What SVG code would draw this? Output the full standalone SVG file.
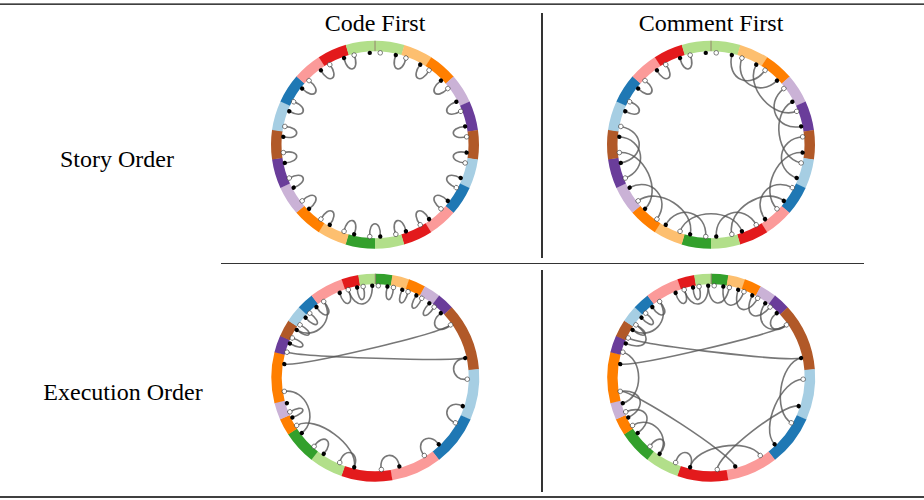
<svg xmlns="http://www.w3.org/2000/svg" xmlns:xlink="http://www.w3.org/1999/xlink" width="924" height="500" viewBox="0 0 924 500">
<style>
.t{font-family:"Liberation Serif",serif;font-size:24px;fill:#000}
.arcs{fill:none;stroke:#555;stroke-opacity:.8;stroke-width:1.6}
.ring{fill:none;stroke-width:10.5}
</style>
<defs>
<circle id="B" cy="-92" r="2.2" fill="#000"/>
<circle id="W" cy="-92" r="2.3" fill="#fff" stroke="#333" stroke-width=".6"/>
<path id="t33" d="M-5.25-91.85C-6.78-74.88 6.78-74.88 5.25-91.85"/>
<path id="t115" d="M-18.26-90.17C-13.3-65.67 13.3-65.67 18.26-90.17"/>
<path id="t1309" d="M-20.84-89.61C-15.17-65.26 15.17-65.26 20.84-89.61"/>
<path id="t1964" d="M-30.92-86.65C-22.52-63.1 22.52-63.1 30.92-86.65"/>
<path id="h19" d="M-3.05-91.95C-4.99-74.96 4.99-74.96 3.05-91.95"/>
<path id="h285" d="M-4.57-91.89C-6.23-74.91 6.23-74.91 4.57-91.89"/>
<path id="h379" d="M-6.08-91.8C-7.46-74.84 7.46-74.84 6.08-91.8"/>
<path id="h474" d="M-7.6-91.69C-8.7-74.74 8.7-74.74 7.6-91.69"/>
<path id="h568" d="M-9.11-91.55C-9.92-74.63 9.92-74.63 9.11-91.55"/>
<path id="h663" d="M-10.62-91.38C-11.16-74.5 11.16-74.5 10.62-91.38"/>
<path id="m663" d="M-10.62-91.38C-8.08-69.53 8.08-69.53 10.62-91.38"/>
<path id="m758" d="M-12.13-91.2C-9.23-69.39 9.23-69.39 12.13-91.2"/>
<path id="m853" d="M-13.65-90.98C-10.38-69.23 10.38-69.23 13.65-90.98"/>
<path id="m947" d="M-15.14-90.75C-11.52-69.05 11.52-69.05 15.14-90.75"/>
<path id="m1232" d="M-19.63-89.88C-14.94-68.39 14.94-68.39 19.63-89.88"/>
<path id="m1421" d="M-22.59-89.18C-17.18-67.86 17.18-67.86 22.59-89.18"/>
<path id="m1610" d="M-25.51-88.39C-19.41-67.25 19.41-67.25 25.51-88.39"/>
<path id="m2085" d="M-32.75-85.97C-24.92-65.42 24.92-65.42 32.75-85.97"/>
<path id="m2274" d="M-35.56-84.85C-27.06-64.56 27.06-64.56 35.56-84.85"/>
<path id="m3410" d="M-51.58-76.18C-43.73-64.59 43.73-64.59 51.58-76.18"/>
<path id="m4830" d="M-68.69-61.2C-59.73-53.22 59.73-53.22 68.69-61.2"/>
<path id="h6821" d="M-85.43-34.15C-69.64-27.84 69.64-27.84 85.43-34.15"/>
<path id="h7579" d="M-89.19-22.58C-72.71-18.41 72.71-18.41 89.19-22.58"/>
<path id="h7105" d="M-87.02-29.87C-70.94-24.35 70.94-24.35 87.02-29.87"/>
<g id="ringTop" class="ring">
<circle r="98.75" pathLength="360" stroke-dasharray="16.6 400" stroke="#b2df8a" transform="rotate(-90)"/>
<circle r="98.75" pathLength="360" stroke-dasharray="16.6 400" stroke="#fdbf6f" transform="rotate(-73.64)"/>
<circle r="98.75" pathLength="360" stroke-dasharray="16.6 400" stroke="#ff7f00" transform="rotate(-57.27)"/>
<circle r="98.75" pathLength="360" stroke-dasharray="16.6 400" stroke="#cab2d6" transform="rotate(-40.91)"/>
<circle r="98.75" pathLength="360" stroke-dasharray="16.6 400" stroke="#6a3d9a" transform="rotate(-24.55)"/>
<circle r="98.75" pathLength="360" stroke-dasharray="16.6 400" stroke="#b15928" transform="rotate(-8.18)"/>
<circle r="98.75" pathLength="360" stroke-dasharray="16.6 400" stroke="#a6cee3" transform="rotate(8.18)"/>
<circle r="98.75" pathLength="360" stroke-dasharray="16.6 400" stroke="#1f78b4" transform="rotate(24.55)"/>
<circle r="98.75" pathLength="360" stroke-dasharray="16.6 400" stroke="#fb9a99" transform="rotate(40.91)"/>
<circle r="98.75" pathLength="360" stroke-dasharray="16.6 400" stroke="#e31a1c" transform="rotate(57.27)"/>
<circle r="98.75" pathLength="360" stroke-dasharray="16.6 400" stroke="#b2df8a" transform="rotate(73.64)"/>
<circle r="98.75" pathLength="360" stroke-dasharray="16.6 400" stroke="#33a02c" transform="rotate(90)"/>
<circle r="98.75" pathLength="360" stroke-dasharray="16.6 400" stroke="#fdbf6f" transform="rotate(106.36)"/>
<circle r="98.75" pathLength="360" stroke-dasharray="16.6 400" stroke="#ff7f00" transform="rotate(122.73)"/>
<circle r="98.75" pathLength="360" stroke-dasharray="16.6 400" stroke="#cab2d6" transform="rotate(139.09)"/>
<circle r="98.75" pathLength="360" stroke-dasharray="16.6 400" stroke="#6a3d9a" transform="rotate(155.45)"/>
<circle r="98.75" pathLength="360" stroke-dasharray="16.6 400" stroke="#b15928" transform="rotate(171.82)"/>
<circle r="98.75" pathLength="360" stroke-dasharray="16.6 400" stroke="#a6cee3" transform="rotate(188.18)"/>
<circle r="98.75" pathLength="360" stroke-dasharray="16.6 400" stroke="#1f78b4" transform="rotate(204.55)"/>
<circle r="98.75" pathLength="360" stroke-dasharray="16.6 400" stroke="#fb9a99" transform="rotate(220.91)"/>
<circle r="98.75" pathLength="360" stroke-dasharray="16.6 400" stroke="#e31a1c" transform="rotate(237.27)"/>
<circle r="98.75" pathLength="360" stroke-dasharray="16.4 400" stroke="#b2df8a" transform="rotate(253.64)"/>
<line y1="-104" y2="-93.5" stroke="#8a7060" stroke-width=".8"/>
</g>
<g id="ringBot" class="ring">
<circle r="98.75" pathLength="360" stroke-dasharray="9.7 400" stroke="#33a02c" transform="rotate(-90)"/>
<circle r="98.75" pathLength="360" stroke-dasharray="9.7 400" stroke="#fdbf6f" transform="rotate(-80.53)"/>
<circle r="98.75" pathLength="360" stroke-dasharray="9.7 400" stroke="#ff7f00" transform="rotate(-71.05)"/>
<circle r="98.75" pathLength="360" stroke-dasharray="9.7 400" stroke="#cab2d6" transform="rotate(-61.58)"/>
<circle r="98.75" pathLength="360" stroke-dasharray="9.7 400" stroke="#6a3d9a" transform="rotate(-52.11)"/>
<circle r="98.75" pathLength="360" stroke-dasharray="38.1 400" stroke="#b15928" transform="rotate(-42.63)"/>
<circle r="98.75" pathLength="360" stroke-dasharray="28.65 400" stroke="#a6cee3" transform="rotate(-4.74)"/>
<circle r="98.75" pathLength="360" stroke-dasharray="28.65 400" stroke="#1f78b4" transform="rotate(23.68)"/>
<circle r="98.75" pathLength="360" stroke-dasharray="28.65 400" stroke="#fb9a99" transform="rotate(52.11)"/>
<circle r="98.75" pathLength="360" stroke-dasharray="28.65 400" stroke="#e31a1c" transform="rotate(80.53)"/>
<circle r="98.75" pathLength="360" stroke-dasharray="19.2 400" stroke="#b2df8a" transform="rotate(108.95)"/>
<circle r="98.75" pathLength="360" stroke-dasharray="19.2 400" stroke="#33a02c" transform="rotate(127.89)"/>
<circle r="98.75" pathLength="360" stroke-dasharray="9.7 400" stroke="#ff7f00" transform="rotate(146.84)"/>
<circle r="98.75" pathLength="360" stroke-dasharray="9.7 400" stroke="#cab2d6" transform="rotate(156.32)"/>
<circle r="98.75" pathLength="360" stroke-dasharray="28.65 400" stroke="#ff7f00" transform="rotate(165.79)"/>
<circle r="98.75" pathLength="360" stroke-dasharray="9.7 400" stroke="#6a3d9a" transform="rotate(194.21)"/>
<circle r="98.75" pathLength="360" stroke-dasharray="9.7 400" stroke="#b15928" transform="rotate(203.68)"/>
<circle r="98.75" pathLength="360" stroke-dasharray="9.7 400" stroke="#a6cee3" transform="rotate(213.16)"/>
<circle r="98.75" pathLength="360" stroke-dasharray="9.7 400" stroke="#1f78b4" transform="rotate(222.63)"/>
<circle r="98.75" pathLength="360" stroke-dasharray="19.2 400" stroke="#fb9a99" transform="rotate(232.11)"/>
<circle r="98.75" pathLength="360" stroke-dasharray="9.7 400" stroke="#e31a1c" transform="rotate(251.05)"/>
<circle r="98.75" pathLength="360" stroke-dasharray="9.47 400" stroke="#b2df8a" transform="rotate(260.53)"/>
<line y1="-104" y2="-93.5" stroke="#8a7060" stroke-width=".8"/>
</g>
<g id="dotsTop">
<use href="#B" transform="rotate(-3.27)"/><use href="#B" transform="rotate(13.09)"/><use href="#B" transform="rotate(29.46)"/><use href="#B" transform="rotate(45.82)"/><use href="#B" transform="rotate(62.18)"/><use href="#B" transform="rotate(78.55)"/><use href="#B" transform="rotate(94.91)"/><use href="#B" transform="rotate(111.27)"/><use href="#B" transform="rotate(127.64)"/><use href="#B" transform="rotate(144)"/><use href="#B" transform="rotate(160.36)"/><use href="#B" transform="rotate(176.73)"/><use href="#B" transform="rotate(193.09)"/><use href="#B" transform="rotate(209.46)"/><use href="#B" transform="rotate(225.82)"/><use href="#B" transform="rotate(242.18)"/><use href="#B" transform="rotate(258.55)"/><use href="#B" transform="rotate(274.91)"/><use href="#B" transform="rotate(291.27)"/><use href="#B" transform="rotate(307.64)"/><use href="#B" transform="rotate(324)"/><use href="#B" transform="rotate(340.36)"/>
<use href="#W" transform="rotate(3.27)"/><use href="#W" transform="rotate(19.64)"/><use href="#W" transform="rotate(36)"/><use href="#W" transform="rotate(52.36)"/><use href="#W" transform="rotate(68.73)"/><use href="#W" transform="rotate(85.09)"/><use href="#W" transform="rotate(101.45)"/><use href="#W" transform="rotate(117.82)"/><use href="#W" transform="rotate(134.18)"/><use href="#W" transform="rotate(150.55)"/><use href="#W" transform="rotate(166.91)"/><use href="#W" transform="rotate(183.27)"/><use href="#W" transform="rotate(199.64)"/><use href="#W" transform="rotate(216)"/><use href="#W" transform="rotate(232.36)"/><use href="#W" transform="rotate(248.73)"/><use href="#W" transform="rotate(265.09)"/><use href="#W" transform="rotate(281.45)"/><use href="#W" transform="rotate(297.82)"/><use href="#W" transform="rotate(314.18)"/><use href="#W" transform="rotate(330.55)"/><use href="#W" transform="rotate(346.91)"/>
</g>
<g id="dotsBot">
<use href="#B" transform="rotate(7.58)"/><use href="#B" transform="rotate(17.05)"/><use href="#B" transform="rotate(26.53)"/><use href="#B" transform="rotate(36)"/><use href="#B" transform="rotate(45.47)"/><use href="#B" transform="rotate(77.68)"/><use href="#B" transform="rotate(108)"/><use href="#B" transform="rotate(136.42)"/><use href="#B" transform="rotate(164.84)"/><use href="#B" transform="rotate(193.26)"/><use href="#B" transform="rotate(214.1)"/><use href="#B" transform="rotate(233.05)"/><use href="#B" transform="rotate(244.42)"/><use href="#B" transform="rotate(253.9)"/><use href="#B" transform="rotate(278.53)"/><use href="#B" transform="rotate(291.79)"/><use href="#B" transform="rotate(301.26)"/><use href="#B" transform="rotate(310.74)"/><use href="#B" transform="rotate(320.21)"/><use href="#B" transform="rotate(337.26)"/><use href="#B" transform="rotate(348.63)"/><use href="#B" transform="rotate(358.1)"/>
<use href="#W" transform="rotate(1.89)"/><use href="#W" transform="rotate(11.37)"/><use href="#W" transform="rotate(20.84)"/><use href="#W" transform="rotate(30.32)"/><use href="#W" transform="rotate(39.79)"/><use href="#W" transform="rotate(54.95)"/><use href="#W" transform="rotate(90.95)"/><use href="#W" transform="rotate(119.37)"/><use href="#W" transform="rotate(147.79)"/><use href="#W" transform="rotate(176.21)"/><use href="#W" transform="rotate(202.74)"/><use href="#W" transform="rotate(221.68)"/><use href="#W" transform="rotate(238.74)"/><use href="#W" transform="rotate(248.21)"/><use href="#W" transform="rotate(261.47)"/><use href="#W" transform="rotate(286.1)"/><use href="#W" transform="rotate(295.58)"/><use href="#W" transform="rotate(305.05)"/><use href="#W" transform="rotate(314.53)"/><use href="#W" transform="rotate(325.89)"/><use href="#W" transform="rotate(342.95)"/><use href="#W" transform="rotate(352.42)"/>
</g>
</defs>
<rect width="924" height="500" fill="#fff"/>
<g id="table-rules" stroke="#000">
<line x1="0" y1="4.2" x2="924" y2="4.2" stroke-width="1.3"/>
<line x1="221" y1="263.5" x2="864" y2="263.5" stroke-width=".8"/>
<line x1="542" y1="13" x2="542" y2="258" stroke-width="1.6"/>
<line x1="542" y1="270" x2="542" y2="492" stroke-width="1.6"/>
<line x1="0" y1="497" x2="924" y2="497" stroke-width="1.3"/>
</g>
<g id="headers">
<text class="t" x="375" y="31" text-anchor="middle">Code First</text>
<text class="t" x="711" y="31" text-anchor="middle">Comment First</text>
<text class="t" x="117" y="167" text-anchor="middle">Story Order</text>
<text class="t" x="123" y="400" text-anchor="middle">Execution Order</text>
</g>
<g id="story-code-first" transform="translate(375,144.7)">
<use href="#ringTop"/>
<g id="conn-story-code" class="arcs">
<use href="#t33" transform="rotate(16.36)"/><use href="#t33" transform="rotate(32.73)"/><use href="#t33" transform="rotate(49.09)"/><use href="#t33" transform="rotate(65.45)"/><use href="#t33" transform="rotate(81.82)"/><use href="#t33" transform="rotate(98.18)"/><use href="#t33" transform="rotate(114.55)"/><use href="#t33" transform="rotate(130.91)"/><use href="#t33" transform="rotate(147.27)"/><use href="#t33" transform="rotate(163.64)"/><use href="#t33" transform="rotate(180)"/><use href="#t33" transform="rotate(196.36)"/><use href="#t33" transform="rotate(212.73)"/><use href="#t33" transform="rotate(229.09)"/><use href="#t33" transform="rotate(245.45)"/><use href="#t33" transform="rotate(261.82)"/><use href="#t33" transform="rotate(278.18)"/><use href="#t33" transform="rotate(294.55)"/><use href="#t33" transform="rotate(310.91)"/><use href="#t33" transform="rotate(327.27)"/><use href="#t33" transform="rotate(343.64)"/>
</g>
<use href="#dotsTop"/>
</g>
<g id="story-comment-first" transform="translate(711,144.7)">
<use href="#ringTop"/>
<g id="conn-story-comment" class="arcs">
<use href="#t33" transform="rotate(294.55)"/><use href="#t33" transform="rotate(310.91)"/><use href="#t33" transform="rotate(327.27)"/><use href="#t33" transform="rotate(343.64)"/>
<use href="#t115" transform="rotate(24.55)"/><use href="#t1309" transform="rotate(32.73)"/><use href="#t1964" transform="rotate(49.09)"/><use href="#t1309" transform="rotate(65.45)"/><use href="#t1964" transform="rotate(81.82)"/><use href="#t1309" transform="rotate(98.18)"/><use href="#t1964" transform="rotate(114.55)"/><use href="#t1309" transform="rotate(130.91)"/><use href="#t1964" transform="rotate(147.27)"/><use href="#t1309" transform="rotate(163.64)"/><use href="#t1964" transform="rotate(180)"/><use href="#t1309" transform="rotate(196.36)"/><use href="#t1964" transform="rotate(212.73)"/><use href="#t1309" transform="rotate(229.09)"/><use href="#t1964" transform="rotate(245.45)"/><use href="#t1309" transform="rotate(261.82)"/><use href="#t115" transform="rotate(270)"/>
</g>
<use href="#dotsTop"/>
</g>
<g id="exec-code-first" transform="translate(375.3,377.7)">
<use href="#ringBot"/>
<g id="conn-exec-code" class="arcs">
<use href="#h285" transform="rotate(340.1)"/><use href="#h19" transform="rotate(350.53)"/><use href="#m758" transform="rotate(350.53)"/><use href="#h19" transform="rotate(9.47)"/><use href="#h19" transform="rotate(18.95)"/><use href="#h19" transform="rotate(28.42)"/><use href="#h19" transform="rotate(37.89)"/><use href="#h474" transform="rotate(50.21)"/><use href="#h663" transform="rotate(84.32)"/><use href="#h568" transform="rotate(113.68)"/><use href="#h568" transform="rotate(142.1)"/><use href="#h568" transform="rotate(170.53)"/><use href="#h474" transform="rotate(198)"/><use href="#h379" transform="rotate(217.89)"/><use href="#m2274" transform="rotate(216)"/><use href="#m1421" transform="rotate(247.26)"/><use href="#h19" transform="rotate(246.32)"/><use href="#h6821" transform="rotate(346.74)"/><use href="#h7579" transform="rotate(1.89)"/><use href="#h19" transform="rotate(293.68)"/><use href="#h19" transform="rotate(312.63)"/><use href="#h285" transform="rotate(323.05)"/><use href="#h19" transform="rotate(303.16)"/><use href="#m1232" transform="rotate(313.58)"/>
</g>
<use href="#dotsBot"/>
</g>
<g id="exec-comment-first" transform="translate(711.2,377.7)">
<use href="#ringBot"/>
<g id="conn-exec-comment" class="arcs">
<use href="#h285" transform="rotate(340.1)"/><use href="#h19" transform="rotate(350.53)"/><use href="#m758" transform="rotate(350.53)"/><use href="#m663" transform="rotate(4.74)"/>
<use href="#m663" transform="rotate(14.21)"/><use href="#m663" transform="rotate(23.69)"/><use href="#m663" transform="rotate(33.16)"/><use href="#m947" transform="rotate(45.48)"/><use href="#h474" transform="rotate(50.21)"/>
<use href="#h6821" transform="rotate(346.74)"/><use href="#h7105" transform="rotate(6.63)"/>
<use href="#m2085" transform="rotate(98.52)"/><use href="#m2274" transform="rotate(113.68)"/><use href="#m3410" transform="rotate(142.1)"/><use href="#m2274" transform="rotate(170.53)"/><use href="#m4830" transform="rotate(213.16)"/>
<use href="#h474" transform="rotate(198)"/><use href="#h379" transform="rotate(217.89)"/><use href="#m1232" transform="rotate(226.42)"/><use href="#m758" transform="rotate(240.63)"/><use href="#m853" transform="rotate(252.95)"/><use href="#m1610" transform="rotate(270)"/>
<use href="#m663" transform="rotate(298.42)"/><use href="#h19" transform="rotate(303.16)"/><use href="#h19" transform="rotate(312.63)"/><use href="#h285" transform="rotate(323.05)"/><use href="#m1232" transform="rotate(313.58)"/>
</g>
<use href="#dotsBot"/>
</g>
</svg>
